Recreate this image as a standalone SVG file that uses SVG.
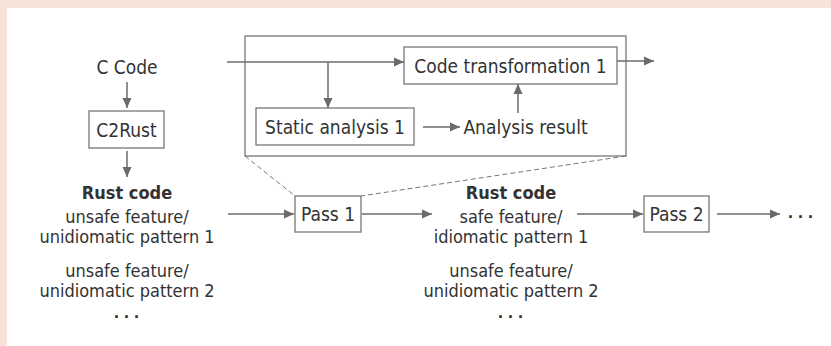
<svg xmlns="http://www.w3.org/2000/svg" width="831" height="346" viewBox="0 0 831 346">
<defs>
<marker id="ah" viewBox="0 0 10 10" refX="10" refY="5" markerWidth="10" markerHeight="10" markerUnits="userSpaceOnUse" orient="auto">
<path d="M0,0.5 L10,5 L0,9.5 Z" fill="#6b6b6b"/>
</marker>
<style>
.t{font-family:"DejaVu Sans Condensed","DejaVu Sans","Liberation Sans",sans-serif;font-stretch:condensed;font-size:19px;fill:#333;text-anchor:middle}
.s{font-size:18px}
.b{font-weight:bold}
.box{fill:#fff;stroke:#777;stroke-width:1.3}
.ar{fill:none;stroke:#6b6b6b;stroke-width:1.5;marker-end:url(#ah)}
.ds{fill:none;stroke:#777;stroke-width:1;stroke-dasharray:5,3}
.dots{font-family:"Liberation Sans",Arial,sans-serif;font-size:18px;font-weight:bold;fill:#2e2e2e;text-anchor:middle;letter-spacing:5px}
</style>
</defs>
<rect x="0" y="0" width="831" height="346" fill="#f8e3da"/>
<rect x="7" y="8" width="824" height="338" fill="#ffffff"/>

<g id="detail">
<rect x="245" y="36" width="381" height="120" class="box"/>
</g>

<g id="connectors">
<path class="ar" d="M127,82 V108"/>
<path class="ar" d="M127,151 V177"/>
<path class="ar" d="M227,62 H404"/>
<path class="ar" d="M328,62 V108"/>
<path class="ar" d="M423,127 H460"/>
<path class="ar" d="M518,113 V84"/>
<path class="ar" d="M617,61 H654"/>
<path class="ar" d="M228,214 H294"/>
<path class="ar" d="M362,214 H432"/>
<path class="ar" d="M577,214 H643"/>
<path class="ar" d="M717,214 H780"/>
<path class="ds" d="M245,156 L295,196"/>
<path class="ds" d="M626,156 L361,196"/>
</g>

<g id="c-code"><text class="t" x="127" y="74">C Code</text></g>
<g id="c2rust">
<rect x="89" y="111" width="75" height="37" class="box"/>
<text class="t" x="126.5" y="136.5">C2Rust</text>
</g>
<g id="rust-code-1">
<text class="t s b" x="127" y="199">Rust code</text>
<text class="t s" x="127" y="223">unsafe feature/</text>
<text class="t s" x="127" y="243">unidiomatic pattern 1</text>
<text class="t s" x="127" y="277">unsafe feature/</text>
<text class="t s" x="127" y="297">unidiomatic pattern 2</text>
<text class="dots" x="129" y="318">...</text>
</g>
<g id="code-transformation">
<rect x="404" y="47" width="213" height="37" class="box"/>
<text class="t" x="510.5" y="72.5">Code transformation 1</text>
</g>
<g id="static-analysis">
<rect x="256" y="108" width="158" height="37" class="box"/>
<text class="t" x="335" y="134">Static analysis 1</text>
</g>
<g id="analysis-result"><text class="t" x="525.5" y="134">Analysis result</text></g>
<g id="pass1">
<rect x="295" y="196" width="66" height="36" class="box"/>
<text class="t" x="328" y="221">Pass 1</text>
</g>
<g id="rust-code-2">
<text class="t s b" x="511" y="199">Rust code</text>
<text class="t s" x="511" y="223">safe feature/</text>
<text class="t s" x="511" y="243">idiomatic pattern 1</text>
<text class="t s" x="511" y="277">unsafe feature/</text>
<text class="t s" x="511" y="297">unidiomatic pattern 2</text>
<text class="dots" x="513" y="318">...</text>
</g>
<g id="pass2">
<rect x="644" y="196" width="65" height="36" class="box"/>
<text class="t" x="676.5" y="221">Pass 2</text>
</g>
<g id="more"><text class="dots" x="803" y="218">...</text></g>
</svg>
